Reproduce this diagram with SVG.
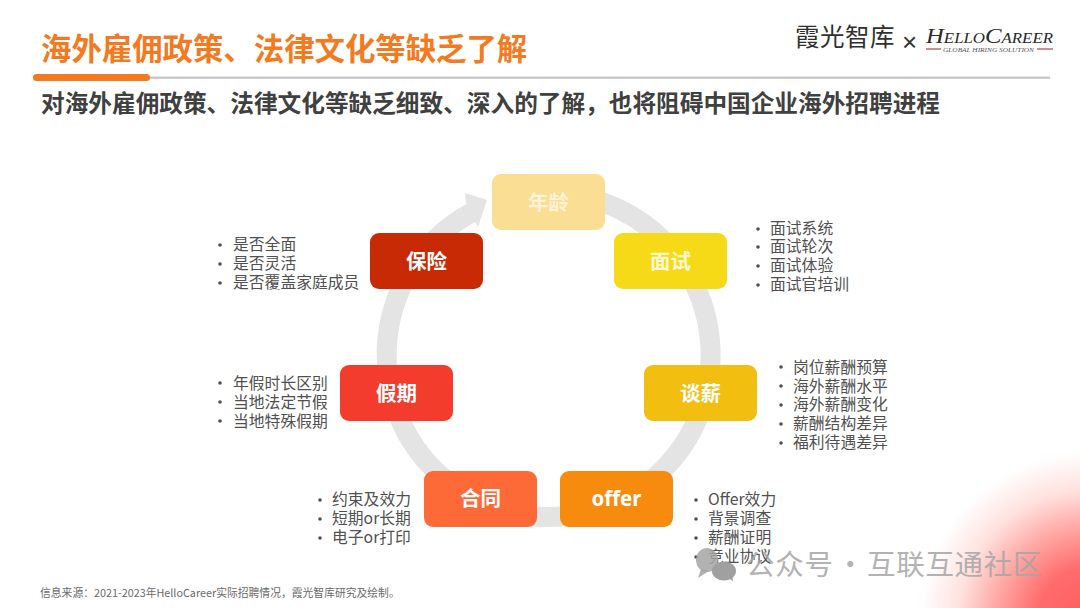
<svg xmlns="http://www.w3.org/2000/svg" width="1080" height="608" viewBox="0 0 1080 608">
<style>
text{font-family:"Noto Sans CJK SC","Noto Sans",sans-serif}
.node{font-size:20.500px;font-weight:700;fill:#fff;text-anchor:middle}
.b{font-size:15.800px;fill:#505050}
.d{fill:#505050}
.serif{font-family:"Liberation Serif",serif;font-style:italic;fill:#2a2a2a}
</style>
<defs>
<radialGradient id="corner" gradientUnits="userSpaceOnUse" cx="1090" cy="622" r="170">
<stop offset="0" stop-color="#ff5c5c"/>
<stop offset=".32" stop-color="#ff6c6c"/>
<stop offset=".56" stop-color="#ffa8a4"/>
<stop offset=".78" stop-color="#ffe2df"/>
<stop offset="1" stop-color="#ffffff"/>
</radialGradient>
</defs>
<rect width="1080" height="608" fill="#fff"/>
<rect x="900" y="440" width="180" height="168" fill="url(#corner)"/>

<g id="header">
<rect x="33" y="76.600" width="1017" height="2.200" fill="#c4c4c4"/>
<rect x="33" y="74" width="117" height="7" rx="3.500" fill="#f47a1f"/>
<text x="41" y="60" font-size="30.400" font-weight="700" fill="#f47a1f">海外雇佣政策、法律文化等缺乏了解</text>
<text x="41" y="112" font-size="23.660" font-weight="700" fill="#404040">对海外雇佣政策、法律文化等缺乏细致、深入的了解，也将阻碍中国企业海外招聘进程</text>
</g>

<g id="logo">
<text x="795" y="46" font-size="24.500" letter-spacing="0.500" fill="#2f2f2f">霞光智库</text>
<text x="902" y="51" font-size="26" fill="#333" style="font-family:'Liberation Sans',sans-serif">×</text>
<text x="926" y="43" class="serif" textLength="127" lengthAdjust="spacingAndGlyphs"><tspan font-size="22">H</tspan><tspan font-size="15">ELLO</tspan><tspan font-size="22">C</tspan><tspan font-size="15">AREER</tspan></text>
<rect x="926" y="48.500" width="15" height="1" fill="#8a2a2a"/>
<rect x="1037" y="48.500" width="16" height="1" fill="#8a2a2a"/>
<text x="943" y="51.500" font-size="7" class="serif" style="fill:#555" textLength="91" lengthAdjust="spacingAndGlyphs">GLOBAL HIRING SOLUTION</text>
</g>

<g id="connectors">
<path d="M549 193A162 162 0 1 1 472.500 212" fill="none" stroke="#e4e4e5" stroke-width="20"/>
<polygon points="465,193 487,200 478,227 466,204" fill="#e4e4e5"/>
</g>

<g id="n-age"><rect x="492" y="174" width="113" height="56" rx="9" fill="#f9de93"/><text class="node" x="548.500" y="210" style="fill:#fdf3d6">年龄</text></g>
<g id="n-interview"><rect x="614" y="233" width="113" height="56" rx="9" fill="#f6da17"/><text class="node" x="670.500" y="269" style="fill:#fdf8d2">面试</text></g>
<g id="n-insurance"><rect x="370" y="233" width="113" height="56" rx="9" fill="#c92a06"/><text class="node" x="426.500" y="269">保险</text></g>
<g id="n-negotiate"><rect x="644" y="365" width="113" height="56" rx="9" fill="#f2be0f"/><text class="node" x="700.500" y="401">谈薪</text></g>
<g id="n-leave"><rect x="340" y="365" width="113" height="56" rx="9" fill="#f43c2c"/><text class="node" x="396.500" y="401">假期</text></g>
<g id="n-contract"><rect x="424" y="471" width="113" height="56" rx="9" fill="#fe6a37"/><text class="node" x="480.500" y="506">合同</text></g>
<g id="n-offer"><rect x="560" y="471" width="113" height="56" rx="9" fill="#f68b0e"/><text class="node" x="616.500" y="506" style="font-family:'Noto Sans',sans-serif">offer</text></g>

<g id="list-insurance">
<circle class="d" cx="220" cy="245" r="1.800"/><text class="b" x="233" y="250">是否全面</text>
<circle class="d" cx="220" cy="264" r="1.800"/><text class="b" x="233" y="269">是否灵活</text>
<circle class="d" cx="220" cy="283" r="1.800"/><text class="b" x="233" y="288">是否覆盖家庭成员</text>
</g>
<g id="list-interview">
<circle class="d" cx="758" cy="229" r="1.800"/><text class="b" x="770" y="234">面试系统</text>
<circle class="d" cx="758" cy="247" r="1.800"/><text class="b" x="770" y="252">面试轮次</text>
<circle class="d" cx="758" cy="266" r="1.800"/><text class="b" x="770" y="271">面试体验</text>
<circle class="d" cx="758" cy="285" r="1.800"/><text class="b" x="770" y="290">面试官培训</text>
</g>
<g id="list-negotiate">
<circle class="d" cx="781" cy="367" r="1.800"/><text class="b" x="793" y="373">岗位薪酬预算</text>
<circle class="d" cx="781" cy="386" r="1.800"/><text class="b" x="793" y="392">海外薪酬水平</text>
<circle class="d" cx="781" cy="405" r="1.800"/><text class="b" x="793" y="410">海外薪酬变化</text>
<circle class="d" cx="781" cy="424" r="1.800"/><text class="b" x="793" y="429">薪酬结构差异</text>
<circle class="d" cx="781" cy="443" r="1.800"/><text class="b" x="793" y="448">福利待遇差异</text>
</g>
<g id="list-leave">
<circle class="d" cx="220" cy="383" r="1.800"/><text class="b" x="233" y="389">年假时长区别</text>
<circle class="d" cx="220" cy="402" r="1.800"/><text class="b" x="233" y="408">当地法定节假</text>
<circle class="d" cx="220" cy="421" r="1.800"/><text class="b" x="233" y="427">当地特殊假期</text>
</g>
<g id="list-contract">
<circle class="d" cx="320" cy="500" r="1.800"/><text class="b" x="332" y="505">约束及效力</text>
<circle class="d" cx="320" cy="519" r="1.800"/><text class="b" x="332" y="524">短期or长期</text>
<circle class="d" cx="320" cy="538" r="1.800"/><text class="b" x="332" y="543">电子or打印</text>
</g>
<g id="list-offer">
<circle class="d" cx="696" cy="500" r="1.800"/><text class="b" x="708" y="505">Offer效力</text>
<circle class="d" cx="696" cy="519" r="1.800"/><text class="b" x="708" y="524">背景调查</text>
<circle class="d" cx="696" cy="538" r="1.800"/><text class="b" x="708" y="543">薪酬证明</text>
<circle class="d" cx="696" cy="557" r="1.800"/><text class="b" x="708" y="562">竞业协议</text>
</g>

<g id="watermark">
<ellipse cx="707" cy="560" rx="11" ry="12" fill="#a4a4a4" opacity=".85"/>
<polygon points="701,569 698,578 709,571" fill="#a4a4a4" opacity=".85"/>
<ellipse cx="724" cy="571" rx="12" ry="9.500" fill="#a0a0a0"/>
<polygon points="728,578 733,581 732,574" fill="#a0a0a0"/>
<text y="575" font-size="28.500" letter-spacing="0.700" fill="#a6a6a6" opacity=".85"><tspan x="746">公众号</tspan><tspan x="836">·</tspan><tspan x="867">互联互通社区</tspan></text>
</g>

<text x="40" y="597" font-size="10.800" fill="#6a6a6a">信息来源：2021-2023年HelloCareer实际招聘情况，霞光智库研究及绘制。</text>
</svg>
